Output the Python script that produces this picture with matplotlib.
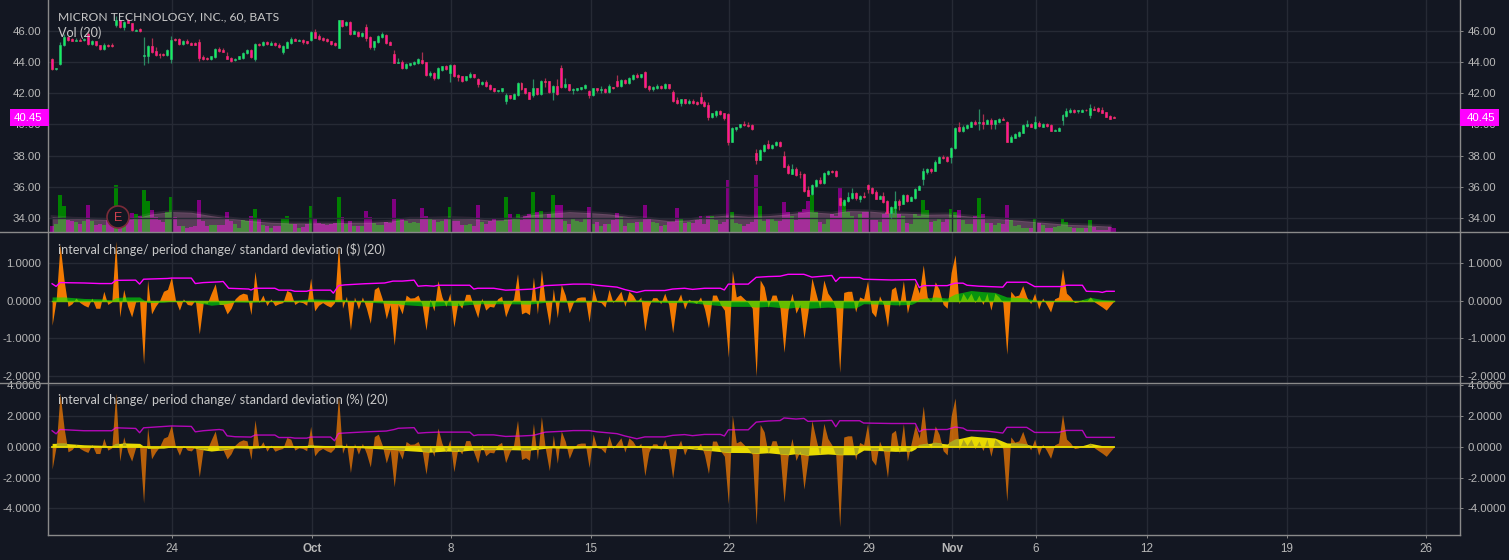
import matplotlib
matplotlib.use("Agg")
import matplotlib.pyplot as plt
from matplotlib.patches import Rectangle, Circle
from matplotlib.lines import Line2D

symbol_title = "MICRON TECHNOLOGY, INC., 60, BATS"
vol_title = "Vol (20)"
usd_title = "interval change/ period change/ standard deviation ($) (20)"
pct_title = "interval change/ period change/ standard deviation (%) (20)"
last_price_label = "40.45"

date_ticks = [30.1, 65.3, 100.2, 135.4, 170.1, 205.3, 226.2, 247.3, 275.2, 310.4, 345.3]
date_labels = ["24", "Oct", "8", "15", "22", "29", "Nov", "6", "12", "19", "26"]
bold_labels = ["Oct", "Nov"]
price_ticks = [34, 36, 38, 40, 42, 44, 46]
usd_ticks = [-2, -1, 0, 1]
pct_ticks = [-4, -2, 0, 2, 4]

opens = [
 44.2,43.53,43.85,45.05,45.6,45.45,45.35,45.42,45.38,45.8,
 45.15,45.3,45.05,44.8,45.1,45.05,46.35,46.65,46.2,46.65,
 46.45,46.0,46.12,44.35,44.4,45.0,44.7,44.5,44.5,44.45,
 44.15,45.45,45.45,45.15,45.3,45.2,45.2,45.25,44.3,44.25,
 44.15,44.3,44.8,44.75,44.35,44.25,44.1,44.2,44.25,44.55,
 44.75,44.2,45.15,45.05,45.25,45.1,45.2,45.1,44.65,44.9,
 45.2,45.45,45.35,45.38,45.3,45.4,45.9,45.67,45.55,45.45,
 45.3,45.2,44.9,46.65,46.35,46.55,45.8,45.9,45.65,46.2,
 45.6,44.97,45.25,45.6,45.7,45.25,44.5,43.95,43.98,43.6,
 43.77,43.87,43.92,44.1,43.98,43.15,43.28,42.95,43.47,43.72,
 43.28,43.8,43.15,43.08,42.82,43.02,43.2,42.89,42.57,42.7,
 42.5,42.3,42.15,42.12,41.48,41.86,41.65,41.86,42.63,42.3,
 42.05,41.86,42.3,41.93,42.76,42.76,42.05,42.44,43.6,42.37,
 42.57,42.2,42.18,42.25,42.3,42.12,41.86,42.3,42.2,42.25,
 42.05,42.37,42.76,42.44,42.82,42.63,42.9,43.15,43.02,43.35,
 42.44,42.25,42.32,42.44,42.32,42.57,42.05,41.55,41.35,41.6,
 41.35,41.48,41.45,41.73,41.42,41.22,40.45,40.58,40.84,40.7,
 40.65,38.9,39.68,39.8,40.0,39.93,39.94,38.18,37.74,38.31,
 38.76,38.5,38.69,38.89,37.99,37.35,36.84,37.16,36.85,36.84,
 35.82,35.56,36.07,36.45,36.26,36.84,37.03,37.03,35.3,34.85,
 35.11,35.3,35.62,35.24,35.43,36.14,35.94,35.69,35.24,35.43,
 35.11,34.35,34.67,35.11,34.92,35.5,35.11,35.3,35.82,36.52,
 36.97,37.16,37.03,37.54,37.93,37.93,37.93,38.5,39.85,39.6,
 39.78,39.85,40.17,40.1,40.17,40.05,40.3,40.05,40.17,40.36,
 40.17,38.9,39.15,39.27,39.47,39.9,40.04,39.78,40.1,39.85,
 40.04,39.97,39.6,39.6,40.3,40.55,40.8,40.93,40.83,40.8,
 40.93,40.6,41.0,41.06,40.93,40.8,40.55,40.5]
closes = [
 43.55,43.58,45.07,45.6,45.4,45.35,45.42,45.35,45.45,45.15,
 45.3,45.05,44.8,45.1,45.0,45.0,46.65,46.2,46.55,46.5,
 46.05,46.05,46.0,44.45,45.0,44.6,44.45,44.45,44.45,44.75,
 45.4,45.4,45.15,45.3,45.2,45.1,45.1,44.25,44.2,44.15,
 44.35,44.8,44.7,44.65,44.2,44.05,44.2,44.35,44.55,44.75,
 44.3,45.15,45.05,45.25,45.15,45.2,45.05,44.95,45.0,45.25,
 45.45,45.35,45.4,45.25,45.22,45.9,45.52,45.45,45.4,45.3,
 45.15,45.05,46.65,46.3,46.55,45.77,46.0,45.65,45.82,45.55,
 44.97,45.3,45.65,45.75,45.2,45.1,43.95,44.0,43.6,43.85,
 43.9,43.98,44.17,43.9,43.15,43.28,42.95,43.6,43.72,43.53,
 43.8,43.08,43.02,42.76,43.08,43.2,43.02,42.57,42.7,42.44,
 42.25,42.12,42.18,42.3,41.86,41.67,41.93,42.63,42.25,42.0,
 41.6,42.3,41.93,42.76,42.7,42.05,42.44,41.93,42.37,42.57,
 42.18,42.25,42.3,42.37,42.5,41.86,42.3,42.18,42.25,42.05,
 42.44,42.32,42.44,42.82,42.63,42.95,43.15,43.02,43.2,42.37,
 42.25,42.37,42.44,42.32,42.57,42.32,41.48,41.35,41.6,41.35,
 41.48,41.35,41.3,41.35,41.16,40.45,40.7,40.84,40.65,40.38,
 38.9,39.75,39.8,40.0,39.94,39.88,39.68,37.74,38.38,38.69,
 38.5,38.69,38.89,38.63,37.29,36.9,37.16,36.78,36.8,35.75,
 35.43,36.14,36.45,36.26,36.9,37.03,36.97,36.7,34.85,35.18,
 35.37,35.62,35.3,35.43,35.37,35.88,35.62,35.24,35.43,35.05,
 34.35,34.73,35.11,34.85,35.5,35.11,35.37,35.88,36.07,37.03,
 37.16,37.03,37.6,37.93,37.87,37.67,38.5,39.78,39.6,39.85,
 39.97,40.17,40.05,40.15,40.05,40.3,40.05,40.25,40.36,40.3,
 38.9,39.2,39.4,39.53,39.97,40.04,39.85,40.17,39.9,40.04,
 39.9,39.6,39.65,39.78,40.6,40.87,40.93,40.8,40.89,40.93,
 40.89,41.06,40.93,40.87,40.74,40.49,40.36,40.42]
highs = [
 44.25,43.62,45.25,45.75,45.65,45.5,45.5,45.5,45.5,45.9,
 45.4,45.35,45.1,45.2,45.15,45.2,46.9,46.7,46.6,46.75,
 46.5,46.1,46.15,45.6,45.05,45.55,44.95,44.55,44.55,44.8,
 45.65,45.5,45.5,45.4,45.45,45.25,45.25,45.45,44.45,44.3,
 44.4,44.85,44.95,44.85,44.65,44.3,44.25,44.4,44.6,44.8,
 44.8,45.2,45.2,45.3,45.3,45.3,45.25,45.2,45.05,45.35,
 45.6,45.55,45.45,45.45,45.35,45.95,46.1,45.75,45.6,45.5,
 45.35,45.25,46.7,46.7,46.6,46.6,46.05,45.95,45.9,46.4,
 45.65,45.35,45.7,45.9,45.75,45.3,44.75,44.25,44.1,43.95,
 43.95,44.02,44.22,44.6,44.0,43.4,43.35,43.65,43.75,43.78,
 43.85,43.85,43.2,43.1,43.12,43.35,43.25,42.95,42.75,42.85,
 42.55,42.35,42.22,42.33,42.0,41.9,42.0,42.7,42.7,42.35,
 42.1,42.9,42.35,42.85,42.95,42.8,42.5,42.9,43.8,42.95,
 42.6,42.35,42.33,42.42,42.55,42.2,42.32,42.35,42.45,42.35,
 42.6,42.4,43.15,42.9,42.9,43.0,43.2,43.3,43.25,43.4,
 42.5,42.45,42.55,42.5,42.62,42.6,42.2,41.75,41.65,41.65,
 41.65,41.65,41.5,42.05,41.55,41.45,40.75,40.9,40.9,40.75,
 40.7,39.8,39.85,40.05,40.2,40.15,40.0,38.45,38.45,38.75,
 39.0,38.75,38.95,38.95,38.3,37.45,37.45,37.25,37.0,36.9,
 36.05,36.18,36.5,36.65,36.95,37.1,37.1,37.08,35.35,35.22,
 35.7,35.9,35.68,35.5,35.65,36.2,36.0,35.8,35.5,35.65,
 35.15,34.8,35.75,35.2,35.55,35.55,35.42,35.92,36.12,37.2,
 37.2,37.22,37.7,38.0,38.05,38.0,38.55,39.82,40.15,39.95,
 40.0,40.22,40.25,41.0,40.65,40.35,40.38,40.3,40.42,40.5,
 40.2,39.3,39.45,39.6,40.02,40.3,40.08,40.55,40.2,40.08,
 40.1,40.0,39.7,39.8,40.65,41.05,41.05,41.0,40.95,40.98,
 40.96,41.3,41.15,41.1,41.1,40.82,40.57,40.52]
lows = [
 43.5,43.5,43.8,45.0,45.35,45.3,45.3,45.3,45.3,45.1,
 45.1,45.0,44.75,44.75,44.95,44.95,46.2,46.15,46.05,46.45,
 46.0,45.95,45.9,43.8,43.95,44.55,44.35,44.25,44.4,44.4,
 43.9,45.35,45.1,45.1,45.15,45.05,45.05,44.05,44.1,44.1,
 44.1,44.25,44.65,44.6,44.15,44.0,44.05,44.15,44.2,44.5,
 44.25,44.05,45.0,45.0,45.1,45.05,45.0,44.9,44.5,44.85,
 45.15,45.3,45.3,45.15,45.15,45.35,45.5,45.4,45.35,45.25,
 45.1,45.0,44.85,46.2,46.3,45.72,45.75,45.6,45.6,45.3,
 44.8,44.75,45.2,45.55,45.15,45.05,43.9,43.9,43.55,43.55,
 43.7,43.8,43.87,43.85,43.1,43.05,42.85,42.9,43.42,43.48,
 42.7,43.0,42.8,42.72,42.78,42.98,42.98,42.4,42.5,42.38,
 42.2,42.1,42.05,42.1,41.3,41.6,41.6,41.8,42.2,41.95,
 41.6,41.75,41.85,41.88,42.4,42.0,41.55,41.88,42.3,42.3,
 42.12,41.95,42.12,42.2,42.25,41.7,41.8,42.1,42.0,42.0,
 42.0,42.28,42.4,42.4,42.58,42.6,42.85,42.98,42.98,42.3,
 42.15,42.15,42.28,42.28,42.28,42.28,41.45,41.3,41.2,41.3,
 41.3,41.3,41.25,41.3,41.1,40.3,40.4,40.5,40.6,40.3,
 38.65,38.85,39.6,39.75,39.9,39.85,39.65,37.45,37.7,38.25,
 38.45,38.45,38.6,38.55,37.25,36.85,36.8,36.7,36.6,35.7,
 35.4,35.5,36.02,36.2,36.2,36.78,36.92,36.65,34.8,34.8,
 35.05,35.25,35.15,35.05,35.3,35.6,35.55,35.2,35.2,35.0,
 34.3,34.0,34.3,34.55,34.88,35.05,35.08,35.25,35.78,36.15,
 36.85,36.9,37.0,37.5,37.8,37.6,37.55,38.45,39.5,39.5,
 39.72,39.8,39.95,39.65,39.7,40.0,39.7,39.7,40.1,40.25,
 38.85,38.85,39.1,39.2,39.42,39.85,39.8,39.72,39.85,39.8,
 39.85,39.55,39.58,39.58,39.95,40.5,40.75,40.75,40.7,40.78,
 40.85,40.4,40.9,40.82,40.7,40.45,40.34,40.38]
volumes = [
 20,25,112,78,38,35,30,26,35,82,
 35,22,26,22,38,30,142,33,33,42,
 58,55,50,127,94,67,45,38,32,62,
 106,45,18,18,14,15,18,97,34,18,
 22,22,22,22,60,35,25,14,38,33,
 50,70,42,22,18,12,18,20,42,48,
 25,25,12,15,25,79,42,28,25,22,
 25,28,106,45,25,35,18,18,18,63,
 45,28,22,22,30,28,100,42,40,35,
 28,30,28,72,48,40,38,32,35,40,
 75,33,33,22,22,26,20,82,30,26,
 33,40,35,35,105,55,40,55,38,50,
 55,120,60,65,40,55,112,82,82,35,
 26,42,35,32,40,75,26,32,18,25,
 25,38,58,45,18,28,28,32,32,82,
 42,32,28,18,22,32,32,72,42,28,
 30,28,38,50,25,50,48,38,25,32,
 157,62,28,25,18,25,32,172,78,33,
 40,42,33,35,92,60,48,38,62,70,
 93,111,60,30,25,42,55,48,137,92,
 62,48,42,55,60,60,38,38,30,55,
 60,55,75,55,48,28,25,55,50,97,
 67,30,35,40,30,42,70,62,67,38,
 25,25,48,103,55,28,28,22,28,25,
 82,38,18,22,14,14,12,42,28,22,
 12,12,15,18,42,30,15,12,12,12,
 12,37,15,8,8,8,16,12]
vol_ma_at = [0,5,10,15,20,25,30,35,40,45,50,55,60,65,70,75,80,85,90,95,100,105,110,115,120,125,130,135,140,145,150,155,160,165,170,175,180,185,190,196,200,205,210,215,220,225,230,235,240,245,250,255,260,265,266]
vol_ma = [47,42,40,38,40,55,62,60,50,42,35,30,28,28,28,30,30,33,42,42,44,42,37,39,52,57,62,59,55,47,42,35,37,47,52,48,50,55,62,57,65,64,59,57,54,55,49,44,39,34,29,24,22,19,19]

interval_usd = [
 -.65,0,1.49,.55,-.15,-.08,.07,-.05,-.12,-.17,
 .07,-.2,-.2,.25,-.1,-.03,1.58,-.43,.3,-.15,
 -.43,-.03,-.02,-1.68,.55,-.35,-.15,0,.25,.3,
 .63,.02,-.25,.05,-.1,-.12,.02,-.88,-.05,-.07,
 .2,.45,-.1,-.1,-.35,-.2,.05,.15,.2,.17,
 -.37,.78,-.05,.15,-.13,.05,-.13,-.08,-.05,.27,
 .22,-.1,-.03,-.05,-.12,.6,-.27,-.12,-.05,-.12,
 -.17,-.05,1.5,-.2,.12,-.78,.1,-.22,.1,-.2,
 -.6,.3,.37,.05,-.48,-.1,-1.18,-.1,-.35,.15,
 .07,.08,.15,-.1,-.78,.05,-.27,.53,.1,-.15,
 .2,-.7,-.05,-.2,.17,.17,-.15,-.45,.07,-.25,
 -.15,-.17,.05,.12,-.43,-.15,.05,.72,-.35,-.3,
 -.37,.63,-.35,.82,-.05,-.65,.32,-.45,.43,.15,
 -.32,-.05,.08,.1,.1,-.57,.35,-.03,-.05,-.17,
 .3,-.05,.1,.25,-.15,.25,.15,-.03,.1,-.8,
 -.15,.08,.08,-.08,.2,-.1,-.85,-.05,.18,-.22,
 .04,-.02,-.07,.1,-.22,-.72,.15,.15,-.1,-.25,
 -1.5,.8,.1,.15,.05,-.05,-.2,-2.0,.55,.37,
 -.17,.15,.15,-.2,-1.37,-.25,.2,-.33,-.1,-1.0,
 -.3,.6,.2,-.2,.55,.2,.05,-.2,-1.9,.22,
 .25,.25,-.3,.1,.05,.53,-.3,-.43,.13,-.1,
 -.7,.3,.37,-.15,.53,-.33,.1,.5,.2,.95,
 .1,-.03,.5,.3,-.1,-.2,.75,1.22,-.08,.2,
 .03,.2,-.05,.15,-.1,.2,-.25,.2,.1,-.05,
 -1.42,.25,.12,.15,.4,.1,-.08,.2,-.22,.07,
 -.1,-.3,.05,.1,.85,.2,.1,-.05,-.03,.02,
 -.02,.1,-.03,-.1,-.17,-.25,-.12,0]
interval_pct = [
 -1.45,0,3.46,1.25,-.33,-.18,.15,-.11,-.26,-.37,
 .15,-.44,-.44,.55,-.22,-.07,3.5,-.93,.65,-.32,
 -.93,-.06,-.04,-3.65,1.24,-.78,-.34,0,.56,.67,
 1.41,.04,-.55,.11,-.22,-.27,.04,-1.95,-.11,-.16,
 .45,1.02,-.22,-.22,-.79,-.45,.11,.34,.45,.38,
 -.83,1.75,-.11,.33,-.29,.11,-.29,-.18,-.11,.6,
 .49,-.22,-.07,-.11,-.26,1.33,-.59,-.26,-.11,-.26,
 -.37,-.11,3.33,-.43,.26,-1.68,.22,-.48,.22,-.43,
 -1.31,.66,.82,.11,-1.05,-.22,-2.6,-.23,-.8,.34,
 .16,.18,.34,-.23,-1.78,.12,-.62,1.22,.23,-.34,
 .46,-1.62,-.12,-.47,.4,.4,-.35,-1.05,.16,-.59,
 -.36,-.4,.12,.29,-1.03,-.36,.12,1.72,-.83,-.71,
 -.88,1.52,-.83,1.96,-.12,-1.55,.76,-1.07,1.02,.36,
 -.76,-.12,.19,.24,.24,-1.35,.83,-.07,-.12,-.4,
 .71,-.12,.24,.58,-.35,.58,.35,-.07,.23,-1.88,
 -.35,.19,.19,-.19,.47,-.24,-2.03,-.12,.43,-.53,
 .1,-.05,-.17,.24,-.53,-1.74,.37,.37,-.25,-.62,
 -3.7,2.05,.25,.38,.12,-.12,-.5,-5.05,1.45,.97,
 -.44,.39,.39,-.52,-3.6,-.67,.54,-.89,-.27,-2.75,
 -.84,1.7,.55,-.55,1.52,.54,.13,-.54,-5.2,.63,
 .71,.71,-.85,.28,.14,1.5,-.84,-1.2,.37,-.28,
 -2.0,.87,1.07,-.43,1.5,-.93,.28,1.42,.56,2.65,
 .27,-.08,1.35,.8,-.26,-.53,2.0,3.17,-.2,.5,
 .08,.5,-.12,.37,-.25,.5,-.62,.5,.25,-.12,
 -3.52,.64,.3,.38,1.0,.25,-.2,.5,-.55,.17,
 -.25,-.75,.12,.25,2.1,.5,.25,-.12,-.07,.05,
 -.05,.25,-.07,-.25,-.42,-.62,-.3,0]

period_at = [0,3,8,12,15,16,18,22,23,24,28,30,35,38,40,43,46,50,55,60,65,70,73,75,78,83,87,88,95,99,102,105,108,115,120,125,130,135,140,145,148,150,155,160,165,170,175,177,180,185,187,190,195,198,202,204,208,212,216,217,218,222,225,227,231,234,237,240,244,247,251,254,258,261,264,267]
period_usd = [.1,.1,.06,.05,.02,.08,.1,.1,.02,-.05,-.04,-.01,-.02,-.08,-.12,-.09,-.03,-.04,-.01,0,.05,.03,.04,0,-.03,-.06,-.08,-.1,-.15,-.12,-.13,-.1,-.08,-.08,-.09,-.03,-.04,-.03,0,0,.03,-.03,-.05,-.05,-.1,-.15,-.15,-.17,-.15,-.2,-.17,-.2,-.17,-.19,-.19,-.08,-.09,-.11,-.1,-.05,.05,.1,.07,.18,.27,.24,.22,.1,.08,.02,-.02,.01,0,.09,.03,.01]
period_pct = [.22,.22,.13,.1,.04,.18,.25,.22,.04,-.1,-.09,-.02,-.04,-.2,-.28,-.2,-.07,-.1,-.02,0,.11,.07,.09,0,-.07,-.14,-.2,-.23,-.35,-.28,-.3,-.23,-.19,-.19,-.22,-.07,-.1,-.07,0,0,.07,-.07,-.12,-.12,-.24,-.37,-.38,-.44,-.39,-.52,-.45,-.55,-.47,-.52,-.52,-.22,-.25,-.3,-.28,-.14,.13,.27,.18,.47,.7,.63,.57,.25,.2,.05,-.05,.03,0,.22,.07,.03]

stdev_usd_at = [0,1,2,8,12,15,16,21,22,23,29,30,35,36,38,42,43,44.4,49.4,50,51,56,57,60,61,64,65,70,70.7,72,73.6,78.6,83.6,85.7,
 88,91,92,94,96,97,105,106,107,111,114,118,121,124,128,131,135,137,142,144,147,149,154,156,159,161,164,168,169,170,175,177,180,183,
 185,189,191,196,197,198,203,204,211,217,218,219,225,227,229,230,233,239,240,245,247,254,255,259,260,263,264,265,267]
stdev_usd = [.45,.38,.48,.47,.455,.455,.54,.545,.44,.57,.59,.6,.6,.455,.48,.5,.51,.33,.31,.285,.33,.33,.28,.28,.25,.25,.28,.28,.2,.4,.42,.45,.47,.52,
 .52,.545,.385,.4,.385,.41,.41,.31,.33,.33,.28,.295,.31,.4,.42,.44,.44,.41,.36,.295,.22,.27,.27,.31,.33,.3,.33,.33,.285,.44,.44,.62,.64,.65,
 .7,.7,.625,.67,.51,.615,.615,.57,.55,.56,.35,.4,.4,.465,.465,.41,.385,.36,.49,.49,.375,.375,.41,.41,.25,.24,.22,.25,.25]
stdev_pct_at = [0,1,2,8,15,16,21,22,23,30,35,36,38,42,43,44,46,50,51,56,57,60,61,64,65,70,71,72,74,79,84,86,
 87,91,92,94,97,105,106,107,111,114,118,121,124,128,131,135,137,142,144,147,149,154,156,159,161,164,168,169,170,175,177,180,183,184,187,
 189,190,196,197,198,203,204,211,217,218,219,225,227,229,230,235,239,240,245,247,253,255,259,260,267]
stdev_pct = [1.04,.84,1.12,1.04,1.04,1.23,1.19,.91,1.23,1.35,1.32,.97,1.04,1.12,1.08,.71,.65,.63,.76,.76,.6,.6,.56,.56,.63,.63,.39,.87,.9,.97,1.02,1.12,
 1.2,1.24,.88,.92,.95,.95,.72,.77,.77,.67,.7,.74,.95,1.0,1.05,1.05,.97,.85,.7,.52,.64,.64,.74,.79,.72,.8,.8,.7,1.1,1.1,1.6,1.67,1.7,1.87,1.8,
 1.84,1.65,1.71,1.3,1.69,1.69,1.54,1.51,1.51,.97,1.12,1.12,1.28,1.21,1.06,1.02,.89,1.26,1.26,.93,.93,1.06,1.06,.61,.61]

W, H = 1509, 560
BG = "#131722"
GRID = "#262a35"
FRAME = "#8a8a8a"
TICK = "#b8b8b8"
LABEL = "#c8c8c8"
UI_FONT = "Liberation Sans"
TITLE_FONT = "Lato"

fig = plt.figure(figsize=(W / 100, H / 100), dpi=100, facecolor=BG)


def axes_px(top, bottom, left=48.3, right=1460.3):
    return fig.add_axes([left / W, 1 - bottom / H, (right - left) / W, (bottom - top) / H])


XMIN, XMAX = -0.955, 354.0
ax_vol = axes_px(0, 232.3)
ax0 = axes_px(0, 232.3)
ax1 = axes_px(232.3, 383.3)
ax2 = axes_px(383.3, 535)

ax_vol.set_facecolor(BG)
ax_vol.set_zorder(1)
ax0.set_zorder(2)
ax0.patch.set_visible(False)
ax1.set_facecolor(BG)
ax2.set_facecolor(BG)

ax_vol.set_xlim(XMIN, XMAX)
ax_vol.set_ylim(0, 696)
ax_vol.axis("off")

idx = list(range(len(closes)))
ups = [c >= o for o, c in zip(opens, closes)]

# volume
ax_vol.bar(idx, volumes, width=1.0, linewidth=0,
           color=["#008000" if u else "#800080" for u in ups])
ax_vol.fill_between(vol_ma_at, 0, vol_ma, color="#ffa2d9", alpha=0.29, linewidth=0)
ax_vol.plot(vol_ma_at, vol_ma, color="#ffa2d9", alpha=0.1, lw=2.2)

# candles
for i, (o, c, h, l, u) in enumerate(zip(opens, closes, highs, lows, ups)):
    ax0.vlines(i, l, h, color="#2b8a62" if u else "#a83050", lw=0.9, zorder=3)
bottoms = [min(o, c) for o, c in zip(opens, closes)]
heights = [abs(o - c) for o, c in zip(opens, closes)]
ax0.bar(idx, heights, bottom=bottoms, width=0.5, zorder=4,
        color=["#14f05a" if u else "#ff10a0" for u in ups],
        edgecolor=["#2cbf78" if u else "#f03a60" for u in ups], linewidth=0.45)
ax0.set_ylim(33.1, 47.95)

# $ panel
ax1.fill_between(idx, 0, interval_usd, color="#ff8000", alpha=0.95, linewidth=0, zorder=3)
ax1.fill_between(period_at, 0, period_usd, color="#00f000", alpha=0.58, linewidth=0, zorder=4)
ax1.plot([idx[0], idx[-1]], [0, 0], color="#6fc000", lw=1.0, zorder=4)
ax1.plot(stdev_usd_at, stdev_usd, color="#ff00ff", lw=1.0, zorder=5)
ax1.set_ylim(-2.19, 1.814)

# % panel: bright yellow over the background, olive where the orange area overlaps it
ax2.fill_between(idx, 0, interval_pct, color="#ff8000", alpha=0.7, linewidth=0, zorder=3)
yellow = ax2.fill_between(period_at, 0, period_pct, color="#e8da00", linewidth=0, zorder=4)
overlap = ax2.fill_between(idx, 0, interval_pct, color="#aea61e", linewidth=0, zorder=4.5)
overlap.set_clip_path(yellow.get_paths()[0], transform=ax2.transData)
ax2.plot([idx[0], idx[-1]], [0, 0], color="#e8da00", lw=1.3, zorder=4.6)
ax2.plot(stdev_pct_at, stdev_pct, color="#ff00ff", lw=1.0, alpha=0.68, zorder=5)
ax2.set_ylim(-5.73, 4.12)

for ax, ticks, fmt in [(ax0, price_ticks, "{:.2f}"), (ax1, usd_ticks, "{:.4f}"), (ax2, pct_ticks, "{:.4f}")]:
    ax.set_xlim(XMIN, XMAX)
    for s in ax.spines.values():
        s.set_visible(False)
    ax.set_yticks(ticks)
    ax.set_yticklabels([fmt.format(t) for t in ticks], fontfamily=UI_FONT, fontsize=8.2, color=TICK)
    ax.tick_params(axis="y", left=False, right=True, labelleft=True, labelright=True,
                   length=2.2, width=0.7, color=FRAME, pad=2.8)
    ax.set_xticks(date_ticks)
    ax.tick_params(axis="x", bottom=False, labelbottom=False)
    ax.grid(True, color=GRID, lw=1, zorder=0)
    ax.set_axisbelow(True)
    for lab in ax.get_yticklabels():
        lab.set_clip_on(False)

ax2.tick_params(axis="x", bottom=True, labelbottom=True, length=2.5, width=0.7, color=FRAME, pad=3.5)
ax2.set_xticklabels(date_labels, fontfamily=UI_FONT, fontsize=8.4, color=TICK)
for lab in ax2.get_xticklabels():
    if lab.get_text() in bold_labels:
        lab.set_fontweight("bold")


def fx(x):
    return x / W


def fy(y):
    return 1 - y / H


# frame and separators
frame_segments = [
    ((0, W), (232.3, 232.3)),
    ((0, W), (383.3, 383.3)),
    ((48.3, 1460.3), (535, 535)),
    ((48.3, 48.3), (0, 535)),
    ((1460.3, 1460.3), (0, 535)),
]
for xs, ys in frame_segments:
    fig.add_artist(Line2D([fx(x) for x in xs], [fy(y) for y in ys], color=FRAME, lw=1, zorder=6))

# last price boxes
for left, right, tx in [(10, 49, 14), (1460, 1499, 1467)]:
    fig.add_artist(Rectangle((fx(left), fy(126)), (right - left) / W, 17 / H, transform=fig.transFigure,
                             facecolor="#ff00ff", edgecolor="none", zorder=7))
    fig.text(fx(tx), fy(117.6), last_price_label, color="white", fontfamily=UI_FONT, fontsize=8.2,
             va="center", ha="left", zorder=8)

# titles
for txt, y, size in [(symbol_title, 17, 8.76), (vol_title, 33, 9.1), (usd_title, 250, 9.14), (pct_title, 400, 9.14)]:
    fig.text(fx(58.5), fy(y), txt, color=LABEL, fontfamily=TITLE_FONT, fontsize=size,
             va="center", ha="left", zorder=9)

# earnings marker
fig.add_artist(Circle((118, H - 217), 11, transform=None, facecolor=BG,
                      edgecolor="#7a2b38", lw=1.2, zorder=8))
fig.text(fx(118), fy(217.5), "E", color="#d0404f", fontfamily=UI_FONT, fontsize=9,
         va="center", ha="center", zorder=9)

fig.savefig("out.png", dpi=100, facecolor=BG)
